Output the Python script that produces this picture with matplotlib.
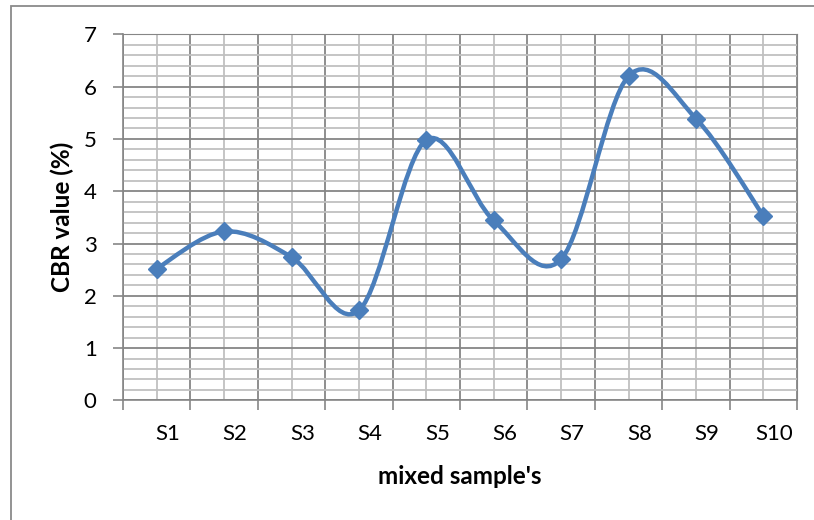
"""
CBR value of the mixed samples, Excel-style smoothed line chart.
"""
import numpy as np
import matplotlib
matplotlib.use('Agg')
import matplotlib.pyplot as plt
from matplotlib.path import Path
from matplotlib.patches import PathPatch, Rectangle
from matplotlib.ticker import MultipleLocator, FixedLocator
from matplotlib.transforms import ScaledTranslation

samples = ['S1', 'S2', 'S3', 'S4', 'S5', 'S6', 'S7', 'S8', 'S9', 'S10']
cbr_values = [2.52, 3.23, 2.74, 1.72, 4.98, 3.44, 2.70, 6.20, 5.39, 3.53]

plt.rcParams['font.family'] = ['Lato', 'DejaVu Sans']

LINE_BLUE = '#4A7EBB'
MAJOR_GRID = '#868686'
MINOR_GRID = '#c0c0c0'

fig = plt.figure(figsize=(8.14, 5.2), dpi=100)
ax = fig.add_axes([123 / 814, 1 - 400.4 / 520, 674 / 814, 366.1 / 520])

# outer chart-area border (only left and top edges fall inside the picture)
fig.patches.append(Rectangle((11 / 814, -0.1), 1.2, 1.1 - 5.7 / 520,
                             transform=fig.transFigure, fill=False,
                             edgecolor='#8a8a8a', linewidth=1.3))

x = np.arange(len(samples)) + 0.5
y = np.array(cbr_values)

# Excel "smoothed line": cubic Bezier segments with Catmull-Rom style handles
pts = np.column_stack([x, y])
padded = np.vstack([pts[0], pts, pts[-1]])
verts = [tuple(pts[0])]
codes = [Path.MOVETO]
for i in range(len(pts) - 1):
    p_prev, p0, p1, p_next = padded[i], padded[i + 1], padded[i + 2], padded[i + 3]
    c1 = p0 + (p1 - p_prev) / 6
    c2 = p1 - (p_next - p0) / 6
    verts += [tuple(c1), tuple(c2), tuple(p1)]
    codes += [Path.CURVE4] * 3
ax.add_patch(PathPatch(Path(verts, codes), facecolor='none', edgecolor=LINE_BLUE,
                       linewidth=3.2, capstyle='round', joinstyle='round', zorder=3))
ax.plot(x, y, linestyle='none', marker='D', markersize=9.5, color=LINE_BLUE, zorder=4)

ax.set_xlim(0, len(samples))
ax.set_ylim(0, 7)

ax.xaxis.set_major_locator(FixedLocator(np.arange(len(samples) + 1)))
ax.xaxis.set_minor_locator(FixedLocator(x))
ax.set_xticklabels([], minor=False)
ax.set_xticklabels(samples, minor=True)
ax.yaxis.set_major_locator(MultipleLocator(1))
ax.yaxis.set_minor_locator(MultipleLocator(0.2))

ax.grid(True, which='major', color=MAJOR_GRID, linewidth=1.3)
ax.grid(True, which='minor', color=MINOR_GRID, linewidth=1.3)
ax.set_axisbelow(True)

ax.tick_params(axis='both', which='major', direction='out', length=7, width=1.2,
               color=MAJOR_GRID, labelsize=16)
ax.tick_params(axis='both', which='minor', length=0, labelsize=16)
ax.tick_params(axis='y', which='major', pad=12)
ax.tick_params(axis='x', which='minor', pad=17)

# category labels sit a little right of the category centre in the original
offset = ScaledTranslation(11 / 100, 0, fig.dpi_scale_trans)
for lbl in ax.get_xticklabels(minor=True):
    lbl.set_transform(lbl.get_transform() + offset)

for side in ['top', 'right']:
    ax.spines[side].set_color(MAJOR_GRID)
for side in ['left', 'bottom']:
    ax.spines[side].set_color(MAJOR_GRID)
    ax.spines[side].set_linewidth(1.2)

ax.set_xlabel("mixed sample's", fontsize=17.5, fontweight='bold', labelpad=15)
ax.set_ylabel('CBR value (%)', fontsize=17.5, fontweight='bold', labelpad=7)

fig.savefig('out.png', dpi=100)
